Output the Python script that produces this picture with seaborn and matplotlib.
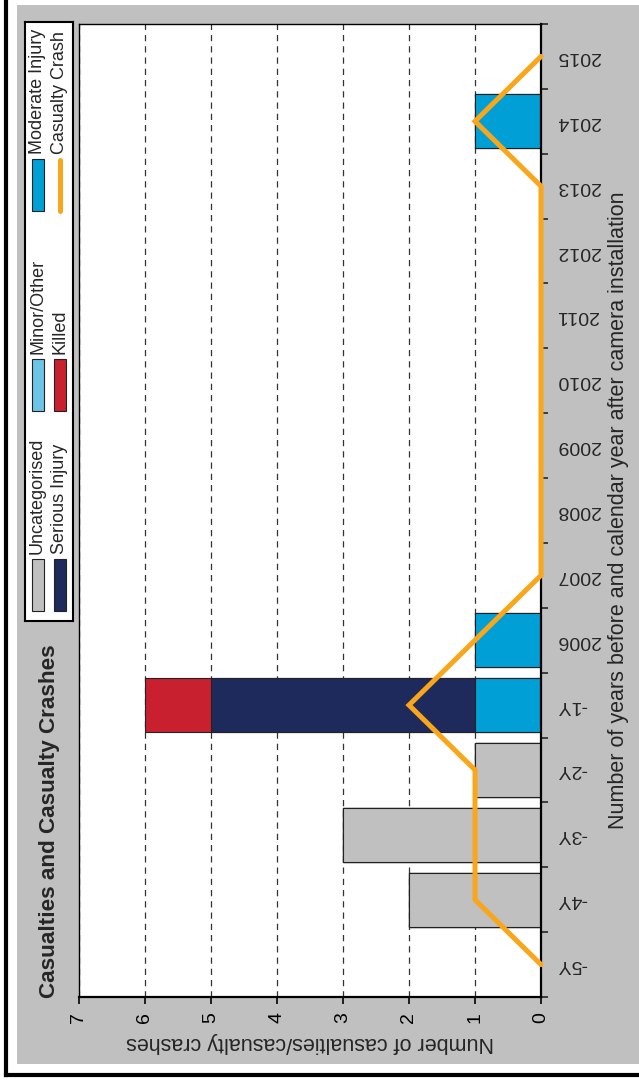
import numpy as np
import matplotlib
matplotlib.use("Agg")
import matplotlib.pyplot as plt
from matplotlib.patches import Rectangle
from matplotlib.lines import Line2D
from matplotlib.ticker import FixedLocator, NullFormatter
import seaborn as sns

# ==============================
# DATA
# ==============================
categories = ["-5Y", "-4Y", "-3Y", "-2Y", "-1Y", "2006", "2007", "2008",
              "2009", "2010", "2011", "2012", "2013", "2014", "2015"]

uncategorised = [0, 2, 3, 1, 0, 0, 0, 0, 0, 0, 0, 0, 0, 0, 0]
minor_other = [0, 0, 0, 0, 0, 0, 0, 0, 0, 0, 0, 0, 0, 0, 0]
moderate_injury = [0, 0, 0, 0, 1, 1, 0, 0, 0, 0, 0, 0, 0, 1, 0]
serious_injury = [0, 0, 0, 0, 4, 0, 0, 0, 0, 0, 0, 0, 0, 0, 0]
killed = [0, 0, 0, 0, 1, 0, 0, 0, 0, 0, 0, 0, 0, 0, 0]
casualty_crash = [0, 1, 1, 1, 2, 1, 0, 0, 0, 0, 0, 0, 0, 1, 0]

value_ticks = [0, 1, 2, 3, 4, 5, 6, 7]

# ==============================
# STYLE
# ==============================
GRAY = "#C0C0C0"
LIGHT_BLUE = "#6CC5E6"
BLUE = "#009FD6"
NAVY = "#1F2A5C"
RED = "#C8202F"
ORANGE = "#FAA61A"

sns.set_style("white")
plt.rcParams["font.family"] = ["Liberation Sans", "DejaVu Sans"]

W, H = 639, 1086


def fx(px):
    return px / W


def fy(py):
    return 1 - py / H


fig = plt.figure(figsize=(W / 100, H / 100), dpi=100)
fig.patch.set_facecolor("white")

# grey panel + black frame lines
fig.add_artist(Rectangle((fx(17), fy(1064)), 1 - fx(17), fy(5) - fy(1064),
                         transform=fig.transFigure, facecolor=GRAY,
                         edgecolor="none", zorder=-2))
fig.add_artist(Line2D([fx(5.5), fx(5.5)], [1, fy(1075)], transform=fig.transFigure,
                      color="black", lw=3, solid_capstyle="projecting"))
fig.add_artist(Line2D([fx(5.5), 1], [fy(1075), fy(1075)], transform=fig.transFigure,
                      color="black", lw=3, solid_capstyle="projecting"))

# ==============================
# BARS (stacked, drawn as cumulative overlays)
# ==============================
ax = fig.add_axes([fx(79), fy(997), fx(541) - fx(79), fy(24) - fy(997)])
ax.set_facecolor("white")

layers = [
    ("Uncategorised", uncategorised, GRAY),
    ("Minor/Other", minor_other, LIGHT_BLUE),
    ("Moderate Injury", moderate_injury, BLUE),
    ("Serious Injury", serious_injury, NAVY),
    ("Killed", killed, RED),
]
cum = np.cumsum([vals for _, vals, _ in layers], axis=0)

for i in reversed(range(len(layers))):
    sns.barplot(x=cum[i], y=categories, order=categories, orient="h",
                color=layers[i][2], saturation=1, width=0.83,
                edgecolor="#222222", linewidth=0.8, errorbar=None, ax=ax)

# casualty crash line
pos = np.arange(len(categories))
sns.lineplot(x=casualty_crash, y=pos, orient="y", sort=False, estimator=None,
             color=ORANGE, lw=3.6, ax=ax, clip_on=False, zorder=6)
for ln in ax.lines:
    ln.set_solid_joinstyle("miter")

# ==============================
# AXES
# ==============================
ax.set_xlim(7, 0)
ax.set_ylim(-0.5, len(categories) - 0.5)

ax.set_xticks(value_ticks)
ax.set_xticklabels([str(v) for v in value_ticks], rotation=90)
ax.xaxis.grid(True, color="#333333", linestyle=(0, (5, 4)), linewidth=0.9)
ax.yaxis.grid(False)
ax.set_axisbelow(True)
ax.tick_params(axis="x", direction="out", length=5, width=1.2, pad=6,
               labelsize=14, bottom=True, colors="black")

ax.yaxis.tick_right()
ax.yaxis.set_major_locator(FixedLocator(np.arange(-0.5, len(categories))))
ax.yaxis.set_major_formatter(NullFormatter())
ax.set_yticks(pos, labels=categories, minor=True)
ax.tick_params(axis="y", which="major", direction="out", length=5, width=1.2,
               right=True, left=False)
ax.tick_params(axis="y", which="minor", length=0, pad=11, labelsize=14,
               labelrotation=180, right=True, left=False,
               labelright=True, labelleft=False)
for lbl in ax.get_yticklabels(minor=True):
    lbl.set_va("center")

for side in ["top", "left"]:
    ax.spines[side].set_color("black")
    ax.spines[side].set_linewidth(1.0)
for side in ["right", "bottom"]:
    ax.spines[side].set_color("black")
    ax.spines[side].set_linewidth(1.6)

ax.set_xlabel("Number of casualties/casualty crashes", rotation=180, fontsize=15.5)
ax.xaxis.set_label_coords(0.5, -0.036)
ax.set_ylabel("Number of years before and calendar year after camera installation",
              rotation=90, fontsize=15.5)
ax.yaxis.set_label_position("right")
ax.yaxis.set_label_coords(1.145, 0.5)

# ==============================
# TITLE
# ==============================
fig.text(fx(50), fy(998), "Casualties and Casualty Crashes", rotation=90,
         fontsize=16.2, fontweight="bold", ha="center", va="bottom")

# ==============================
# LEGEND (vertical, drawn by hand)
# ==============================
lax = fig.add_axes([fx(25), fy(621), fx(73) - fx(25), fy(22) - fy(621)])
lax.set_xlim(25, 73)
lax.set_ylim(621, 22)
lax.set_xticks([])
lax.set_yticks([])
lax.set_facecolor("white")
for s in lax.spines.values():
    s.set_color("black")
    s.set_linewidth(1.5)

legend_items = [
    ("Uncategorised", GRAY, 0, 0),
    ("Serious Injury", NAVY, 1, 0),
    ("Minor/Other", LIGHT_BLUE, 0, 1),
    ("Killed", RED, 1, 1),
    ("Moderate Injury", BLUE, 0, 2),
    ("Casualty Crash", ORANGE, 1, 2),
]
col_x = [37.5, 59.5]
row_bottom = [611, 411, 211]

for label, colr, c, r in legend_items:
    xc = col_x[c]
    yb = row_bottom[r]
    if label == "Casualty Crash":
        lax.add_line(Line2D([xc, xc], [yb - 51, yb], color=colr, lw=3.6,
                            solid_capstyle="round"))
    else:
        lax.add_patch(Rectangle((xc - 6, yb - 52), 12, 52, facecolor=colr,
                                edgecolor="#222222", linewidth=0.8))
    lax.text(xc, yb - 57, label, rotation=90, fontsize=13,
             ha="center", va="bottom")

plt.savefig("out.png", dpi=100)
plt.close()
